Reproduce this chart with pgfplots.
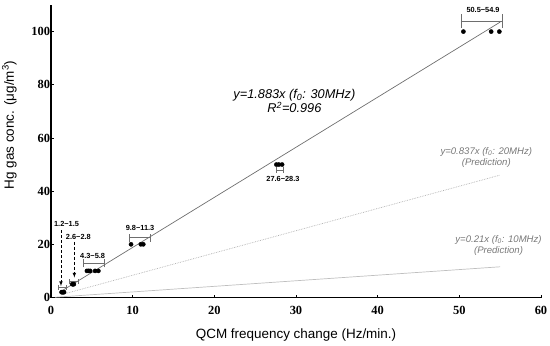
\documentclass[border=0pt]{standalone}
\usepackage{fontspec}
\setmainfont{Liberation Sans}
\newfontfamily\tnr{Liberation Serif}
\usepackage{pgfplots}
\pgfplotsset{compat=1.18}
\definecolor{fitgray}{RGB}{110,110,110}
\definecolor{predgray}{RGB}{175,175,175}
\definecolor{txtgray}{RGB}{120,120,120}
\begin{document}
\begin{tikzpicture}
\begin{axis}[
  scale only axis, width=490bp, height=292.5bp,
  xmin=0, xmax=60, ymin=0, ymax=110,
  axis x line*=bottom, axis y line*=left,
  xtick={0,10,...,60}, ytick={0,20,...,100},
  tick align=inside, major tick length=3bp,
  tick style={black, line width=0.8pt},
  axis line style={black, line width=1.1pt},
  tick label style={font=\tnr\bfseries\fontsize{12.5}{13}\selectfont},
  xticklabel style={yshift=-5.5bp},
  yticklabel style={xshift=2.5bp},
  /pgf/number format/assume math mode=true,
  xlabel={QCM frequency change (Hz/min.)},
  ylabel={Hg gas conc. (μg/m\textsuperscript{3})},
  label style={font=\fontsize{13.5}{15}\selectfont},
  xlabel style={at={(axis description cs:0.5,-0.128)}, anchor=center},
  ylabel style={at={(axis description cs:-0.063,0.59)}, anchor=south},
  clip=false,
]
% fitted and predicted lines
\addplot[fitgray, line width=0.7pt] coordinates {(1.0,1.88) (55,103.57)};
\addplot[predgray, line width=0.7pt, densely dotted] coordinates {(1.2,1.0) (55,46.04)};
\addplot[predgray!80, line width=0.7pt] coordinates {(0.5,0.1) (55,11.55)};
% measured points
\addplot[only marks, mark=*, mark size=2.1pt, black] coordinates {
 (1.3,2) (1.4,2) (1.5,2) (1.6,2)
 (2.6,5) (2.7,5) (2.8,5)
 (4.4,10) (4.6,10) (4.8,10) (5.4,10) (5.8,10)
 (9.8,20) (11.0,20) (11.3,20)
 (27.6,50) (27.9,50) (28.3,50)
 (50.5,100) (53.9,100) (54.9,100)
};
% range brackets
\draw[fitgray, line width=0.8pt] (axis cs:50.2,101.5) -- (axis cs:50.2,106.5) (axis cs:50.2,104) -- (axis cs:55.3,104) (axis cs:55.3,101.5) -- (axis cs:55.3,106.5);
\node[font=\bfseries\fontsize{7.4}{8}\selectfont] at (axis cs:52.9,108.3) {50.5−54.9};
\draw[fitgray, line width=0.8pt] (axis cs:9.6,21) -- (axis cs:9.6,24) (axis cs:9.6,22.5) -- (axis cs:12.2,22.5) (axis cs:12.2,21) -- (axis cs:12.2,24);
\node[font=\bfseries\fontsize{7.4}{8}\selectfont] at (axis cs:10.9,26.3) {9.8−11.3};
\draw[fitgray, line width=0.8pt] (axis cs:4.0,11.3) -- (axis cs:4.0,14.3) (axis cs:4.0,12.8) -- (axis cs:6.5,12.8) (axis cs:6.5,11.3) -- (axis cs:6.5,14.3);
\node[font=\bfseries\fontsize{7.4}{8}\selectfont] at (axis cs:5.1,15.8) {4.3−5.8};
\draw[fitgray, line width=0.6pt] (axis cs:27.6,47) -- (axis cs:27.6,49) (axis cs:27.6,48) -- (axis cs:28.5,48) (axis cs:28.5,47) -- (axis cs:28.5,49);
\node[font=\bfseries\fontsize{7.4}{8}\selectfont] at (axis cs:28.4,44.6) {27.6−28.3};
\draw[fitgray, line width=0.8pt] (axis cs:0.9,2.9) -- (axis cs:0.9,4.7) (axis cs:0.9,3.8) -- (axis cs:1.9,3.8) (axis cs:1.9,2.9) -- (axis cs:1.9,4.7);
\draw[fitgray, line width=0.8pt] (axis cs:2.25,5.0) -- (axis cs:2.25,6.8) (axis cs:2.25,5.9) -- (axis cs:3.3,5.9) (axis cs:3.3,5.0) -- (axis cs:3.3,6.8);
\draw[black, densely dashed, line width=0.6pt, -latex] (axis cs:1.22,25.2) -- (axis cs:1.22,4.3);
\draw[black, densely dashed, line width=0.6pt, -latex] (axis cs:2.86,20.9) -- (axis cs:2.86,7.5);
\node[font=\bfseries\fontsize{7.4}{8}\selectfont] at (axis cs:1.9,27.6) {1.2−1.5};
\node[font=\bfseries\fontsize{7.4}{8}\selectfont] at (axis cs:3.35,22.6) {2.6−2.8};
% equations
\node[font=\itshape\fontsize{12.8}{14}\selectfont, align=center] at (axis cs:29.8,73.8) {y=1.883x (f\textsubscript{0}: 30MHz)\\R\textsuperscript{2}=0.996};
\node[font=\itshape\fontsize{9.6}{11}\selectfont, text=txtgray, align=center] at (axis cs:53.3,52.7) {y=0.837x (f\textsubscript{0}: 20MHz)\\(Prediction)};
\node[font=\itshape\fontsize{9.6}{11}\selectfont, text=txtgray, align=center] at (axis cs:54.8,19.6) {y=0.21x (f\textsubscript{0}: 10MHz)\\(Prediction)};
\end{axis}
\pgfresetboundingbox
\path (-51bp,-48.5bp) rectangle (499bp,297.5bp);
\end{tikzpicture}
\end{document}
